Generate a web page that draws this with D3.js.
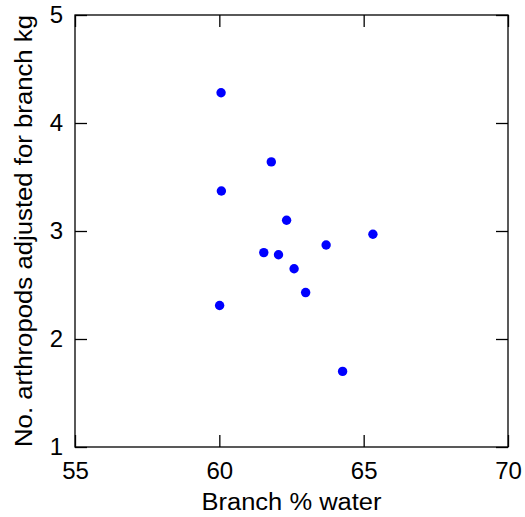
<!DOCTYPE html>
<html>
<head>
<meta charset="utf-8">
<script src="https://cdn.jsdelivr.net/npm/d3@7"></script>
<style>
  body { margin: 0; background: #fff; }
  svg text { font-family: "Liberation Sans", Arial, sans-serif; fill: #000; }
</style>
</head>
<body>
<svg id="chart"></svg>
<script>
// branch % water vs arthropods per branch kg
const waterPct = [60.06, 61.80, 60.07, 62.33, 65.32, 63.70, 61.54, 62.05, 62.59, 62.99, 60.01, 64.27];
const arthropods = [4.28, 3.64, 3.37, 3.10, 2.97, 2.87, 2.80, 2.78, 2.65, 2.43, 2.31, 1.70];
const xTicks = [55, 60, 65, 70];
const yTicks = [1, 2, 3, 4, 5];

const W = 525, H = 517;
const margin = { top: 15, right: 17, bottom: 70, left: 75 };

const svg = d3.select("#chart").attr("width", W).attr("height", H);

const x = d3.scaleLinear().domain([55, 70]).range([margin.left, W - margin.right]);
const y = d3.scaleLinear().domain([1, 5]).range([H - margin.bottom, margin.top]);

const tickLen = 12;

// frame
svg.append("rect")
  .attr("x", x(55)).attr("y", y(5))
  .attr("width", x(70) - x(55)).attr("height", y(1) - y(5))
  .attr("fill", "none").attr("stroke", "#000").attr("stroke-width", 1.3);

// bottom axis (ticks inside)
svg.append("g")
  .attr("transform", `translate(0,${y(1)})`)
  .call(d3.axisBottom(x).tickValues(xTicks).tickSize(-tickLen).tickFormat(d3.format("d")))
  .call((g) => g.select(".domain").remove())
  .call((g) => g.selectAll(".tick line").attr("stroke-width", 1.3))
  .call((g) => g.selectAll(".tick text").attr("font-size", 24).attr("y", 15).attr("dy", "0.71em"));

// top ticks
svg.append("g")
  .attr("transform", `translate(0,${y(5)})`)
  .call(d3.axisTop(x).tickValues(xTicks).tickSize(-tickLen).tickFormat(""))
  .call((g) => g.select(".domain").remove())
  .call((g) => g.selectAll(".tick line").attr("stroke-width", 1.3));

// left axis
svg.append("g")
  .attr("transform", `translate(${x(55)},0)`)
  .call(d3.axisLeft(y).tickValues(yTicks).tickSize(-tickLen).tickPadding(12).tickFormat(d3.format("d")))
  .call((g) => g.select(".domain").remove())
  .call((g) => g.selectAll(".tick line").attr("stroke-width", 1.3))
  .call((g) => g.selectAll(".tick text").attr("font-size", 24));

// right ticks
svg.append("g")
  .attr("transform", `translate(${x(70)},0)`)
  .call(d3.axisRight(y).tickValues(yTicks).tickSize(-tickLen).tickFormat(""))
  .call((g) => g.select(".domain").remove())
  .call((g) => g.selectAll(".tick line").attr("stroke-width", 1.3));

// points
svg.append("g")
  .selectAll("circle")
  .data(waterPct.map((w, i) => ({ w, a: arthropods[i] })))
  .enter()
  .append("circle")
  .attr("cx", (d) => x(d.w))
  .attr("cy", (d) => y(d.a))
  .attr("r", 4.7)
  .attr("fill", "#0000ff");

// axis titles
svg.append("text")
  .attr("x", (x(55) + x(70)) / 2)
  .attr("y", 510)
  .attr("text-anchor", "middle")
  .attr("font-size", 23)
  .attr("textLength", 180)
  .attr("lengthAdjust", "spacingAndGlyphs")
  .text("Branch % water");

svg.append("text")
  .attr("transform", `translate(32,${(y(1) + y(5)) / 2}) rotate(-90)`)
  .attr("text-anchor", "middle")
  .attr("font-size", 23)
  .attr("textLength", 432)
  .attr("lengthAdjust", "spacingAndGlyphs")
  .text("No. arthropods adjusted for branch kg");
</script>
</body>
</html>
